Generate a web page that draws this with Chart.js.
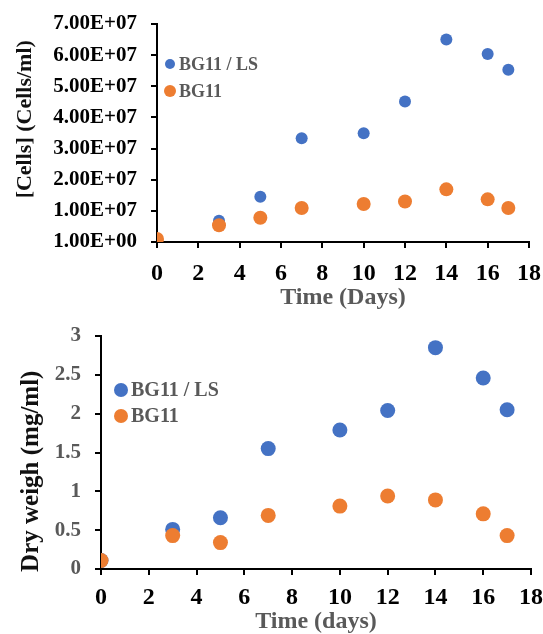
<!DOCTYPE html>
<html>
<head>
<meta charset="utf-8">
<script src="https://cdn.jsdelivr.net/npm/chart.js@4.4.1/dist/chart.umd.min.js"></script>
<style>
	body { margin: 0; background: #fff; }
	canvas { display: block; }
</style>
</head>
<body>
<canvas id="cells-chart" width="543" height="310"></canvas>
<canvas id="dry-chart" width="543" height="324"></canvas>
<script>
// Values
const days = [0, 3, 5, 7, 10, 12, 14, 16, 17];
const cellsLS = [1.0e6, 6.8e6, 1.45e7, 3.33e7, 3.49e7, 4.51e7, 6.5e7, 6.04e7, 5.53e7];
const cellsBG11 = [1.0e6, 5.4e6, 7.8e6, 1.09e7, 1.22e7, 1.30e7, 1.69e7, 1.37e7, 1.09e7];
const dryLS = [0.11, 0.51, 0.66, 1.55, 1.79, 2.04, 2.85, 2.46, 2.05];
const dryBG11 = [0.11, 0.43, 0.34, 0.69, 0.81, 0.94, 0.89, 0.71, 0.43];

const seriesNames = ['BG11 / LS', 'BG11'];
const dayTickLabels = ['0', '2', '4', '6', '8', '10', '12', '14', '16', '18'];
const cellTickLabels = ['1.00E+00', '1.00E+07', '2.00E+07', '3.00E+07', '4.00E+07', '5.00E+07', '6.00E+07', '7.00E+07'];
const dryTickLabels = ['0', '0.5', '1', '1.5', '2', '2.5', '3'];

const BLUE = '#4472C4';
const ORANGE = '#ED7D31';
const SERIF = "'Liberation Serif', 'Times New Roman', serif";

// legend drawn inside the plot like in the excel figure
const dotLegend = {
	id: 'dotLegend',
	afterDatasetsDraw(chart, args, opts) {
		const ctx = chart.ctx;
		ctx.save();
		chart.data.datasets.forEach((ds, i) => {
			const y = opts.y + i * opts.gap;
			ctx.beginPath();
			ctx.arc(opts.x, y, opts.r[i], 0, Math.PI * 2);
			ctx.fillStyle = ds.backgroundColor;
			ctx.fill();
			ctx.font = 'bold ' + opts.size + 'px ' + SERIF;
			ctx.fillStyle = '#595959';
			ctx.textBaseline = 'middle';
			ctx.fillText(ds.label, opts.textX, y + 1);
		});
		ctx.restore();
	}
};

// black axis line with short outside ticks, no gridlines
const axisGrid = {
	display: true,
	drawOnChartArea: false,
	drawTicks: true,
	tickLength: 6,
	color: '#000',
	lineWidth: 2
};

function makeChart(el, s) {
	return new Chart(el, {
		type: 'scatter',
		data: {
			datasets: [{
				label: seriesNames[0],
				data: days.map((d, i) => ({ x: d, y: s.ls[i] })),
				backgroundColor: BLUE,
				borderWidth: 0,
				pointRadius: s.radius[0],
				order: 2
			}, {
				label: seriesNames[1],
				data: days.map((d, i) => ({ x: d, y: s.bg[i] })),
				backgroundColor: ORANGE,
				borderWidth: 0,
				pointRadius: s.radius[1],
				order: 1
			}]
		},
		plugins: [dotLegend],
		options: {
			responsive: false,
			animation: false,
			layout: { padding: { top: s.top, right: s.right, left: 0, bottom: 0 } },
			plugins: {
				legend: { display: false },
				tooltip: { enabled: false },
				dotLegend: s.legend
			},
			scales: {
				x: {
					type: 'linear',
					position: 'bottom',
					min: 0,
					max: 18,
					afterFit: (sc) => {
						sc.height = s.xHeight;
						sc.paddingLeft = 0;
						sc.paddingRight = 0;
					},
					border: { display: true, color: '#000', width: 2 },
					grid: axisGrid,
					ticks: {
						stepSize: 2,
						padding: s.xPad,
						color: '#000',
						font: { family: SERIF, size: 24, weight: 'bold', lineHeight: 1 },
						callback: (v, i) => dayTickLabels[i]
					},
					title: {
						display: true,
						text: s.xTitle,
						color: '#595959',
						padding: 0,
						font: { family: SERIF, size: 24, weight: 'bold', lineHeight: 1 }
					}
				},
				y: {
					type: 'linear',
					position: 'left',
					min: 0,
					max: s.yMax,
					afterFit: (sc) => {
						sc.width = s.yWidth;
						sc.paddingTop = 0;
						sc.paddingBottom = 0;
					},
					border: { display: true, color: '#000', width: 2 },
					grid: axisGrid,
					ticks: {
						stepSize: s.yStep,
						padding: 14,
						color: s.yTickColor,
						font: { family: SERIF, size: s.yTickSize, weight: 'bold' },
						callback: (v, i) => s.yLabels[i]
					},
					title: {
						display: true,
						// spaces only nudge the rotated title off centre, as in the figure
						text: s.yTitle,
						color: '#111',
						padding: { top: s.yTitlePad, bottom: 0 },
						font: { family: SERIF, size: s.yTitleSize, weight: 'bold', lineHeight: 1 }
					}
				}
			}
		}
	});
}

document.addEventListener('DOMContentLoaded', () => {
	// Cell count chart
	makeChart(document.getElementById('cells-chart'), {
		ls: cellsLS, bg: cellsBG11, radius: [6, 7],
		yMax: 7e7, yStep: 1e7, yLabels: cellTickLabels,
		yTickColor: '#000', yTickSize: 21,
		yTitle: '     [Cells] (Cells/ml)', yTitleSize: 22, yTitlePad: 14,
		xTitle: 'Time (Days)', xPad: 14,
		top: 24, right: 14, yWidth: 157, xHeight: 68,
		legend: { x: 170, y: 64, gap: 27, r: [5, 6], textX: 179, size: 18 }
	});

	// Dry weight chart
	makeChart(document.getElementById('dry-chart'), {
		ls: dryLS, bg: dryBG11, radius: [7.5, 7.5],
		yMax: 3, yStep: 0.5, yLabels: dryTickLabels,
		yTickColor: '#595959', yTickSize: 21,
		yTitle: 'Dry weigh (mg/ml)      ', yTitleSize: 25, yTitlePad: 19,
		xTitle: 'Time (days)', xPad: 11,
		top: 26, right: 12, yWidth: 101, xHeight: 65,
		legend: { x: 121, y: 80, gap: 26, r: [7, 7], textX: 131, size: 20 }
	});
});
</script>
</body>
</html>
